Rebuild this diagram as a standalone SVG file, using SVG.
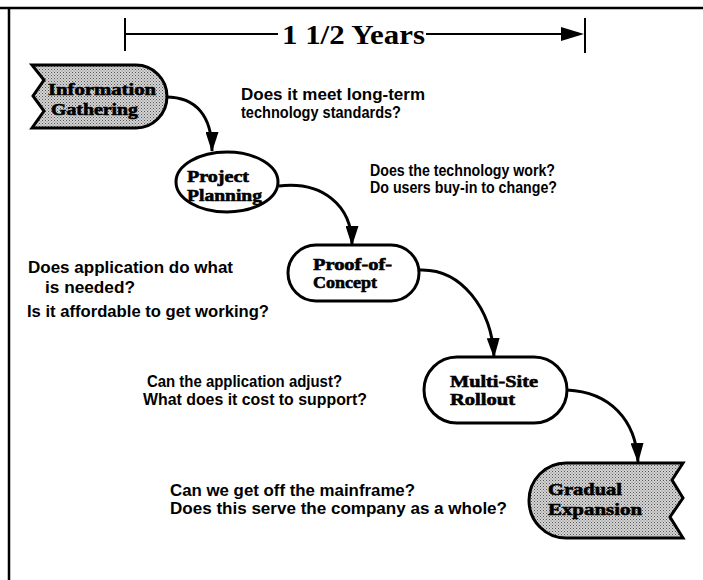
<svg xmlns="http://www.w3.org/2000/svg" width="703" height="580" viewBox="0 0 703 580">
<style>
.frame{stroke:#000;stroke-width:2.5;fill:none}
.node{stroke:#000;stroke-width:3;fill:#fff}
.shaded{stroke:#000;stroke-width:3;fill:url(#dots)}
.lbl{font-family:"Liberation Serif","DejaVu Serif",serif;font-weight:bold;font-size:17px;fill:#000;stroke:#000;stroke-width:0.6}
.q{font-family:"Liberation Sans",Arial,sans-serif;font-weight:bold;font-size:16px;fill:#000}
.conn{stroke:#000;stroke-width:3;fill:none;marker-end:url(#ah)}
.tl{stroke:#000;stroke-width:2;fill:none}
</style>
<defs>
<pattern id="dots" width="3" height="3" patternUnits="userSpaceOnUse">
<rect width="3" height="3" fill="#d4d4d4"/>
<rect width="1" height="1" fill="#555"/>
<rect x="1.5" y="1.5" width="1" height="1" fill="#777"/>
</pattern>
<marker id="ah" markerUnits="userSpaceOnUse" markerWidth="20" markerHeight="13" refX="19" refY="6.5" orient="auto">
<path d="M0,0 L20,6.5 L0,13 Z" fill="#000"/>
</marker>
</defs>
<rect width="703" height="580" fill="#fff"/>
<g id="frame">
<line class="frame" x1="0" y1="8" x2="703" y2="8"/>
<line class="frame" x1="9" y1="8" x2="9" y2="580"/>
</g>
<g id="timeline">
<line class="tl" x1="125" y1="18" x2="125" y2="51"/>
<line class="tl" x1="125" y1="34" x2="278" y2="34"/>
<line class="tl" x1="426" y1="34" x2="565" y2="34"/>
<path d="M561,27 L584,34 L561,41 Z" fill="#000"/>
<line class="tl" x1="585" y1="18" x2="585" y2="53"/>
<text x="282" y="44" font-family="Liberation Serif,serif" font-weight="bold" font-size="28" textLength="143" lengthAdjust="spacingAndGlyphs">1 1/2 Years</text>
</g>
<g id="connectors">
<path class="conn" d="M166,97 C196,97 212,116 212,151"/>
<path class="conn" d="M279,186 C322,181 352,205 352,245"/>
<path class="conn" d="M419,270 C462,268 492,310 494,357"/>
<path class="conn" d="M567,390 C610,392 636,420 638,462"/>
</g>
<g id="information-gathering">
<path class="shaded" d="M32,65 L136,65 A31,31.5 0 0 1 136,128 L32,128 L44,111 L33,96 L44,80 Z"/>
<text class="lbl" x="48" y="95" textLength="108" lengthAdjust="spacingAndGlyphs">Information</text>
<text class="lbl" x="51" y="115" textLength="87" lengthAdjust="spacingAndGlyphs">Gathering</text>
</g>
<g id="project-planning">
<ellipse class="node" cx="227" cy="182" rx="51" ry="30"/>
<text class="lbl" x="187" y="182" textLength="62" lengthAdjust="spacingAndGlyphs">Project</text>
<text class="lbl" x="187" y="201" textLength="75" lengthAdjust="spacingAndGlyphs">Planning</text>
</g>
<g id="proof-of-concept">
<rect class="node" x="288" y="245" width="131" height="56" rx="28" ry="28"/>
<text class="lbl" x="313" y="270" textLength="79" lengthAdjust="spacingAndGlyphs">Proof-of-</text>
<text class="lbl" x="313" y="288" textLength="64" lengthAdjust="spacingAndGlyphs">Concept</text>
</g>
<g id="multi-site-rollout">
<rect class="node" x="424" y="357" width="143" height="66" rx="33" ry="33"/>
<text class="lbl" x="450" y="387" textLength="88" lengthAdjust="spacingAndGlyphs">Multi-Site</text>
<text class="lbl" x="450" y="405" textLength="65" lengthAdjust="spacingAndGlyphs">Rollout</text>
</g>
<g id="gradual-expansion">
<path class="shaded" d="M683,463 L566,463 A37,37.5 0 0 0 566,538 L683,538 L670,517 L683,498 L672,480 Z"/>
<text class="lbl" x="548" y="495" textLength="74" lengthAdjust="spacingAndGlyphs">Gradual</text>
<text class="lbl" x="548" y="515" textLength="94" lengthAdjust="spacingAndGlyphs">Expansion</text>
</g>
<g id="questions">
<text class="q" x="241" y="100" textLength="184" lengthAdjust="spacingAndGlyphs">Does it meet long-term</text>
<text class="q" x="241" y="118" textLength="160" lengthAdjust="spacingAndGlyphs">technology standards?</text>
<text class="q" x="370" y="176" textLength="185" lengthAdjust="spacingAndGlyphs">Does the technology work?</text>
<text class="q" x="370" y="193" textLength="187" lengthAdjust="spacingAndGlyphs">Do users buy-in to change?</text>
<text class="q" x="28" y="273" textLength="205" lengthAdjust="spacingAndGlyphs">Does application do what</text>
<text class="q" x="45" y="293" textLength="90" lengthAdjust="spacingAndGlyphs">is needed?</text>
<text class="q" x="27" y="317" textLength="242" lengthAdjust="spacingAndGlyphs">Is it affordable to get working?</text>
<text class="q" x="147" y="387" textLength="195" lengthAdjust="spacingAndGlyphs">Can the application adjust?</text>
<text class="q" x="143" y="405" textLength="224" lengthAdjust="spacingAndGlyphs">What does it cost to support?</text>
<text class="q" x="170" y="496" textLength="245" lengthAdjust="spacingAndGlyphs">Can we get off the mainframe?</text>
<text class="q" x="170" y="514" textLength="337" lengthAdjust="spacingAndGlyphs">Does this serve the company as a whole?</text>
</g>
</svg>
